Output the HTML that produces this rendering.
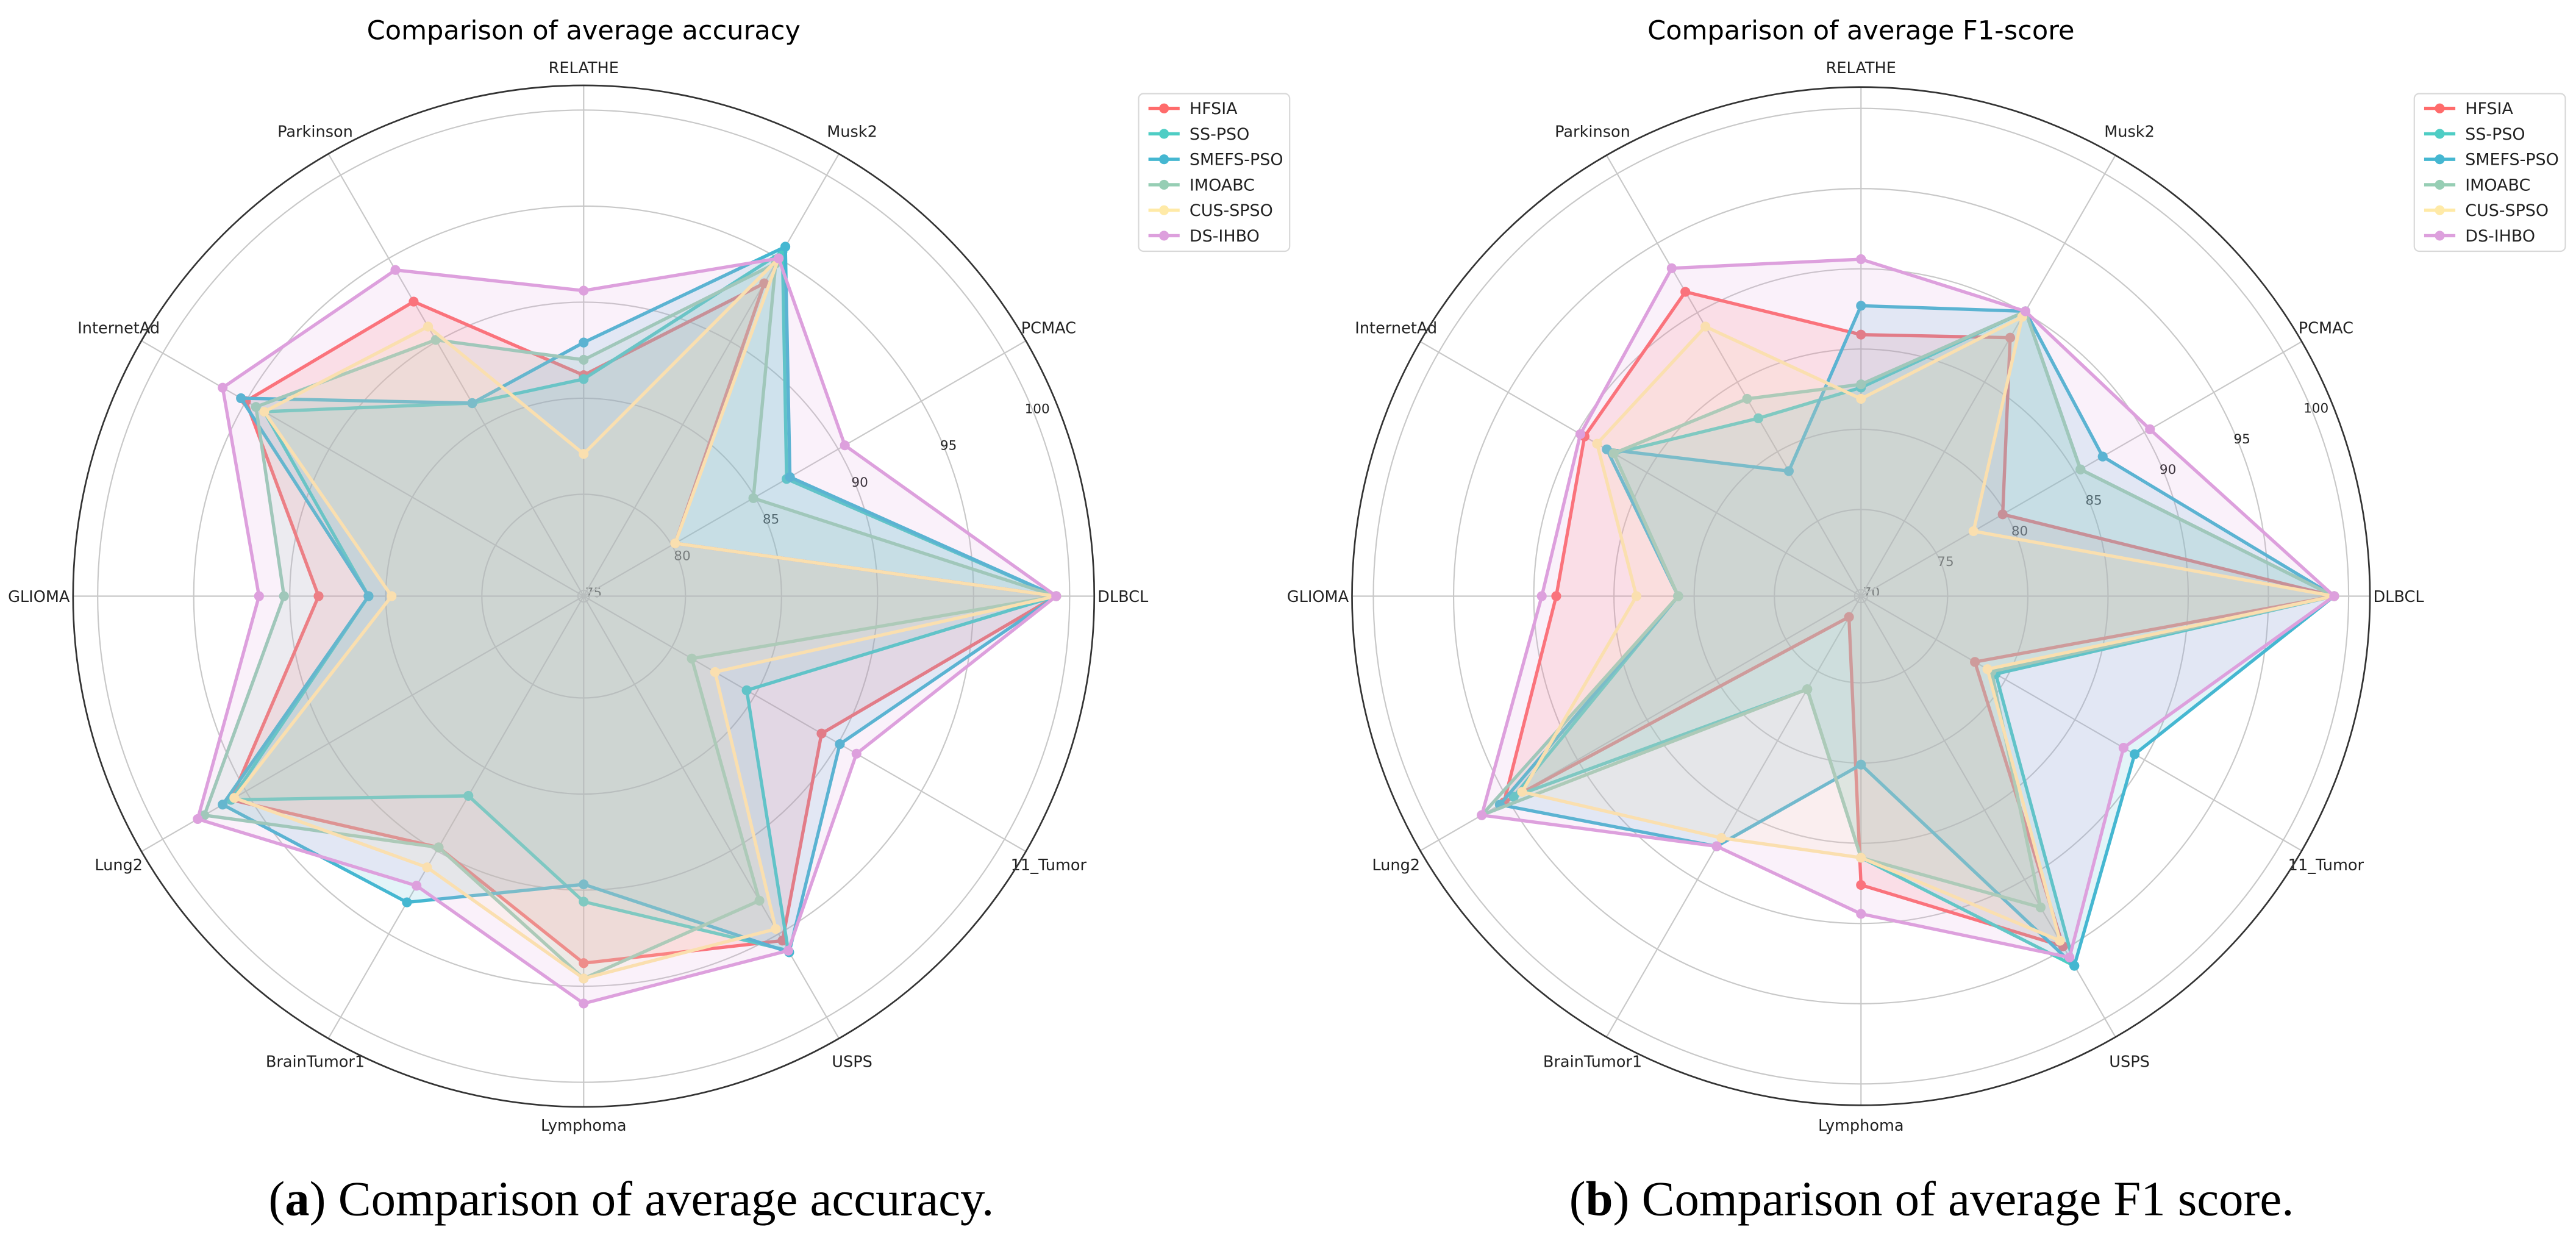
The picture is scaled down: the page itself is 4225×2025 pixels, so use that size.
<!DOCTYPE html>
<html><head><meta charset="utf-8"><style>
html,body{margin:0;padding:0;background:#fff;}
svg{display:block;}
</style></head><body>
<svg id="fig" width="4225" height="2025" viewBox="0 0 1568 752" xmlns="http://www.w3.org/2000/svg" font-family="'DejaVu Sans','Liberation Sans',sans-serif">
<text x="355" y="24" text-anchor="middle" font-size="16">Comparison of average accuracy</text>
<text x="1133" y="24" text-anchor="middle" font-size="16">Comparison of average F1-score</text>
<text x="384" y="740" text-anchor="middle" font-size="30" font-family="'Liberation Serif',serif">(<tspan font-weight="bold">a</tspan>) Comparison of average accuracy.</text>
<text x="1176" y="740" text-anchor="middle" font-size="30" font-family="'Liberation Serif',serif">(<tspan font-weight="bold">b</tspan>) Comparison of average F1 score.</text>
<g id="chartA"></g>
<g id="chartB"></g>
</svg>
<script>
const categories = ["DLBCL","PCMAC","Musk2","RELATHE","Parkinson","InternetAd","GLIOMA","Lung2","BrainTumor1","Lymphoma","USPS","11_Tumor"];
const seriesNames = ["HFSIA","SS-PSO","SMEFS-PSO","IMOABC","CUS-SPSO","DS-IHBO"];
const seriesColors = ["#ff6b6b","#4ecdc4","#45b7d1","#96ceb4","#ffeaa7","#dda0dd"];
const accHFSIA  = [99.3,80.2,93.5,86.2,92.4,95.0,88.5,95.9,89.8,93.8,95.4,89.0];
const accSSPSO  = [99.3,86.9,95.4,86.0,86.3,93.9,85.9,95.9,86.7,90.6,96.0,84.5];
const accSMEFS  = [99.3,87.1,95.7,87.9,86.3,95.3,85.9,96.4,93.1,89.7,96.1,90.1];
const accIMOABC = [99.3,84.9,94.7,87.0,90.1,94.4,90.3,97.5,89.8,94.6,93.0,81.2];
const accCUS    = [99.3,80.2,95.0,82.1,90.9,93.9,84.7,95.7,91.0,94.6,94.7,82.6];
const accDSIHBO = [99.3,90.4,95.0,90.6,94.3,96.4,91.6,97.9,92.1,95.9,96.0,91.1];
const f1HFSIA   = [99.1,79.8,88.2,85.9,91.5,89.5,88.6,95.3,71.1,87.6,94.8,77.8];
const f1SSPSO   = [99.1,85.4,90.1,82.6,82.4,87.4,81.0,94.6,76.3,85.9,96.2,79.3];
const f1SMEFS   = [99.1,87.0,90.1,87.7,78.6,87.9,81.0,95.6,87.6,80.1,96.2,89.3];
const f1IMOABC  = [99.1,85.4,90.1,82.8,83.8,87.4,81.0,96.9,76.3,85.9,92.0,79.0];
const f1CUS     = [99.1,77.7,89.7,81.9,89.0,88.6,83.6,94.0,87.0,85.9,94.4,78.7];
const f1DSIHBO  = [99.1,90.4,90.1,90.6,93.2,89.8,89.5,96.9,87.6,89.4,95.6,88.5];
const accTicks = [75,80,85,90,95,100];
const f1Ticks  = [70,75,80,85,90,95,100];

const NS="http://www.w3.org/2000/svg";
function mk(parent,tag,attrs){const e=document.createElementNS(NS,tag);for(const k in attrs)e.setAttribute(k,attrs[k]);parent.appendChild(e);return e;}

function drawRadar(g,cx,cy,v0,k,outerR,ticks,data,legX){
  const rad=v=>(v-v0)*k;
  const ang=i=>i*2*Math.PI/categories.length;
  const pt=(i,v)=>[cx+rad(v)*Math.cos(ang(i)), cy-rad(v)*Math.sin(ang(i))];
  ticks.forEach(t=>{
    const c=mk(g,'circle',{cx:cx,cy:cy,r:Math.max(rad(t),0.5),fill:'none',stroke:'#c8c8c8','stroke-width':0.8});
    
    
    const a=22.5*Math.PI/180;
    const tx=mk(g,'text',{x:cx+(rad(t)+3)*Math.cos(a),y:cy-(rad(t)+3)*Math.sin(a)+3,'font-size':8,'text-anchor':'middle',fill:'#222'});
    tx.textContent=t;
    
    
  });
  categories.forEach((c,i)=>{
    const a=ang(i);
    const l=mk(g,'line',{x1:cx,y1:cy,x2:cx+outerR*Math.cos(a),y2:cy-outerR*Math.sin(a),stroke:'#c8c8c8','stroke-width':0.8});
    
    
    const cs=Math.cos(a), sn=Math.sin(a);
    let anchor='middle', lr=327;
    if(Math.abs(sn)<0.1){anchor=cs>0?'start':'end'; lr=outerR+2;}
    else if(Math.abs(cs)<0.1){lr=322;}
    const t=mk(g,'text',{x:cx+lr*cs,y:cy-lr*sn+3.5,'font-size':9.5,'text-anchor':anchor,fill:'#222'});
    t.textContent=c;
    
    
  });
  const oc=mk(g,'circle',{cx:cx,cy:cy,r:outerR,fill:'none',stroke:'#333','stroke-width':1});
  
  
  data.forEach((vals,s)=>{
    const pts=vals.map((v,i)=>pt(i,v));
    const d=pts.map(p=>p[0].toFixed(2)+','+p[1].toFixed(2)).join(' ');
    const poly=mk(g,'polygon',{points:d,fill:seriesColors[s],'fill-opacity':0.15,stroke:seriesColors[s],'stroke-width':2,'stroke-linejoin':'round'});
    
    
    pts.forEach((p,i)=>{
      const c=mk(g,'circle',{cx:p[0],cy:p[1],r:3,fill:seriesColors[s]});
      
      
    });
  });
  const lg=mk(g,'g',{});
  
  
  mk(lg,'rect',{x:legX,y:57,width:92,height:96,rx:3,fill:'#fff',stroke:'#d8d8d8','stroke-width':0.8});
  seriesNames.forEach((n,s)=>{
    const y=66+s*15.5;
    const e=mk(lg,'g',{});
    
    
    mk(e,'line',{x1:legX+6,y1:y,x2:legX+25,y2:y,stroke:seriesColors[s],'stroke-width':2});
    mk(e,'circle',{cx:legX+15.5,cy:y,r:3,fill:seriesColors[s]});
    const t=mk(e,'text',{x:legX+31,y:y+3.5,'font-size':10,fill:'#222'});
    t.textContent=n;
  });
}
drawRadar(document.getElementById('chartA'),355,363,74.7,11.7,311,accTicks,[accHFSIA,accSSPSO,accSMEFS,accIMOABC,accCUS,accDSIHBO],693);
drawRadar(document.getElementById('chartB'),1133,363,69.6,9.77,310,f1Ticks,[f1HFSIA,f1SSPSO,f1SMEFS,f1IMOABC,f1CUS,f1DSIHBO],1470);
</script>
</body></html>
